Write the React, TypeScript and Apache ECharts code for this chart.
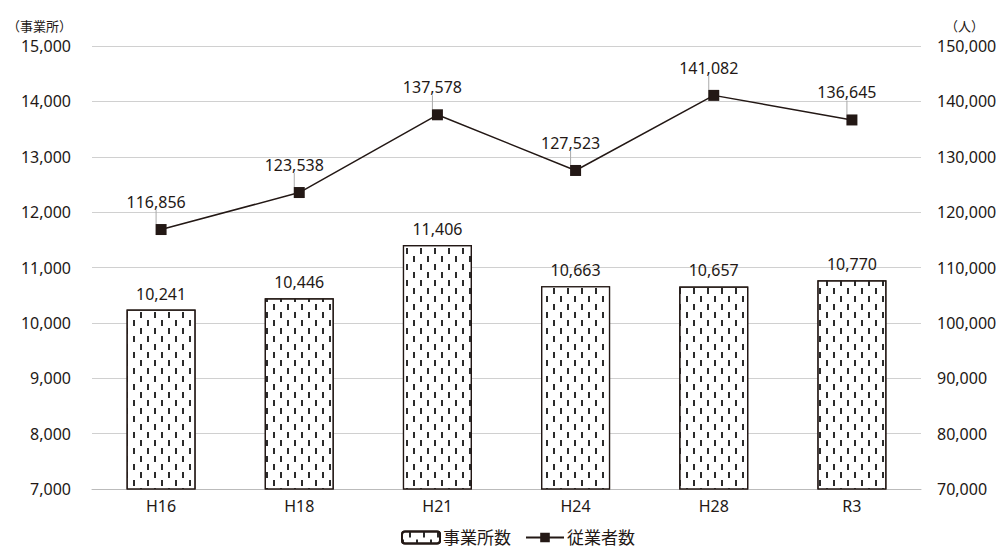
import React, { useEffect, useRef } from "react";
import * as echarts from "echarts";

const categories = ["H16", "H18", "H21", "H24", "H28", "R3"];
const offices = [10241, 10446, 11406, 10663, 10657, 10770];
const workers = [116856, 123538, 137578, 127523, 141082, 136645];
const officeName = "事業所数";
const workerName = "従業者数";
const leftUnit = "（事業所）";
const rightUnit = "（人）";

const INK = "#231815";
const FONT = "'Noto Sans', 'Noto Sans CJK JP', sans-serif";

const fmt = (v: number) => v.toLocaleString("en-US");

export default function App() {
  const ref = useRef<HTMLDivElement>(null);
  useEffect(() => {
    if (!ref.current) return;
    const chart = echarts.init(ref.current, null, { renderer: "svg" });
    chart.setOption({
      animation: false,
      backgroundColor: "#fff",
      textStyle: { fontFamily: FONT, color: INK },
      grid: { left: 92, right: 84, top: 46, bottom: 67 },
      legend: {
        bottom: 5,
        left: 396,
        itemGap: 14,
        itemWidth: 38,
        itemHeight: 12,
        textStyle: { fontSize: 17, color: INK, fontFamily: FONT, padding: [0, 0, 0, -2] },
        data: [{ name: officeName }, { name: workerName }],
      },
      xAxis: {
        type: "category",
        data: categories,
        axisLine: { show: true, lineStyle: { color: "#bbb" } },
        axisTick: { show: false },
        axisLabel: { fontSize: 16, color: INK, margin: 9, fontFamily: FONT },
      },
      yAxis: [
        {
          type: "value",
          min: 7000,
          max: 15000,
          interval: 1000,
          name: leftUnit,
          nameLocation: "end",
          nameGap: 14,
          nameTextStyle: { fontSize: 13, color: INK, align: "right", padding: [0, 20, 0, 0], fontFamily: FONT },
          axisLine: { show: false },
          axisTick: { show: false },
          axisLabel: { fontSize: 16, color: INK, margin: 21, formatter: (v: number) => fmt(v), fontFamily: FONT },
          splitLine: { lineStyle: { color: "#d0d0d0", width: 1 } },
        },
        {
          type: "value",
          min: 70000,
          max: 150000,
          interval: 10000,
          name: rightUnit,
          nameLocation: "end",
          nameGap: 14,
          nameTextStyle: { fontSize: 13, color: INK, align: "left", padding: [0, 0, 0, 24], fontFamily: FONT },
          axisLine: { show: false },
          axisTick: { show: false },
          axisLabel: { fontSize: 16, color: INK, margin: 16, formatter: (v: number) => fmt(v), fontFamily: FONT },
          splitLine: { show: false },
        },
      ],
      series: [
        {
          name: officeName,
          type: "bar",
          yAxisIndex: 0,
          data: offices,
          barWidth: "50%",
          itemStyle: {
            color: "#fff",
            borderColor: INK,
            borderWidth: 1.2,
            decal: {
              symbol: "rect",
              symbolSize: 1,
              symbolKeepAspect: false,
              color: "#2b2b2b",
              backgroundColor: "#fff",
              dashArrayX: [[2, 12], [0, 7, 2, 5]],
              dashArrayY: [6, 1.5],
              rotation: 0,
            },
          },
          label: {
            show: true,
            position: "top",
            distance: 8,
            fontSize: 16,
            color: INK,
            fontFamily: FONT,
            formatter: (p: any) => fmt(p.value),
          },
        },
        {
          name: workerName,
          type: "line",
          yAxisIndex: 1,
          data: workers,
          symbol: "rect",
          symbolSize: 11,
          lineStyle: { color: INK, width: 1.5 },
          itemStyle: { color: INK },
          label: {
            show: true,
            position: "top",
            distance: 6,
            fontSize: 16,
            color: INK,
            fontFamily: FONT,
            formatter: (p: any) => fmt(p.value),
          },
          labelLayout: { dy: -8, dx: -5 },
          labelLine: { show: true, lineStyle: { color: "#aaa", width: 1 } },
        },
      ],
    });
    return () => chart.dispose();
  }, []);
  return <div ref={ref} style={{ width: 1005, height: 556, position: "absolute", left: 0, top: 0 }} />;
}
